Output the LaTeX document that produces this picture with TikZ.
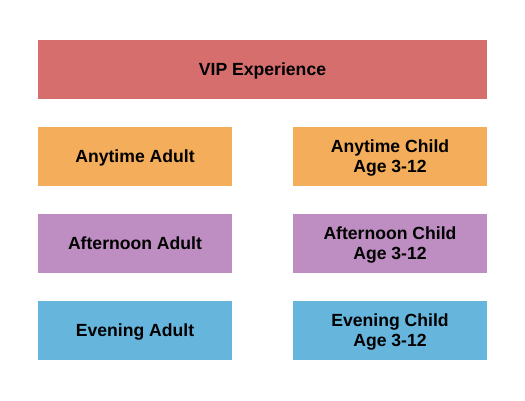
\documentclass[tikz,border=0pt]{standalone}
\usepackage{fontspec}
\setmainfont{Liberation Sans}
\definecolor{vipc}{HTML}{D76E6E}
\definecolor{anyc}{HTML}{F4AD5A}
\definecolor{aftc}{HTML}{BE8DC1}
\definecolor{evec}{HTML}{66B5DD}
\begin{document}
\begin{tikzpicture}[x=1pt,y=-1pt,
  sec/.style={draw=none,minimum height=58.5pt,inner sep=0pt,align=center,
    text depth=0pt,
    font=\fontsize{17.6}{19.4}\selectfont\bfseries,text=black},
  half/.style={sec,minimum width=194pt},
  full/.style={sec,minimum width=449pt}]
\useasboundingbox (0,0) rectangle (525,400);
\node[full,fill=vipc] (vip) at (262.5,69.5) {VIP Experience};
\node[half,fill=anyc] (anyA) at (135,156.3) {Anytime Adult};
\node[half,fill=anyc] (anyC) at (390,156.3) {Anytime Child\\Age 3-12};
\node[half,fill=aftc] (aftA) at (135,243.3) {Afternoon Adult};
\node[half,fill=aftc] (aftC) at (390,243.3) {Afternoon Child\\Age 3-12};
\node[half,fill=evec] (eveA) at (135,330.3) {Evening Adult};
\node[half,fill=evec] (eveC) at (390,330.3) {Evening Child\\Age 3-12};
\end{tikzpicture}
\end{document}
